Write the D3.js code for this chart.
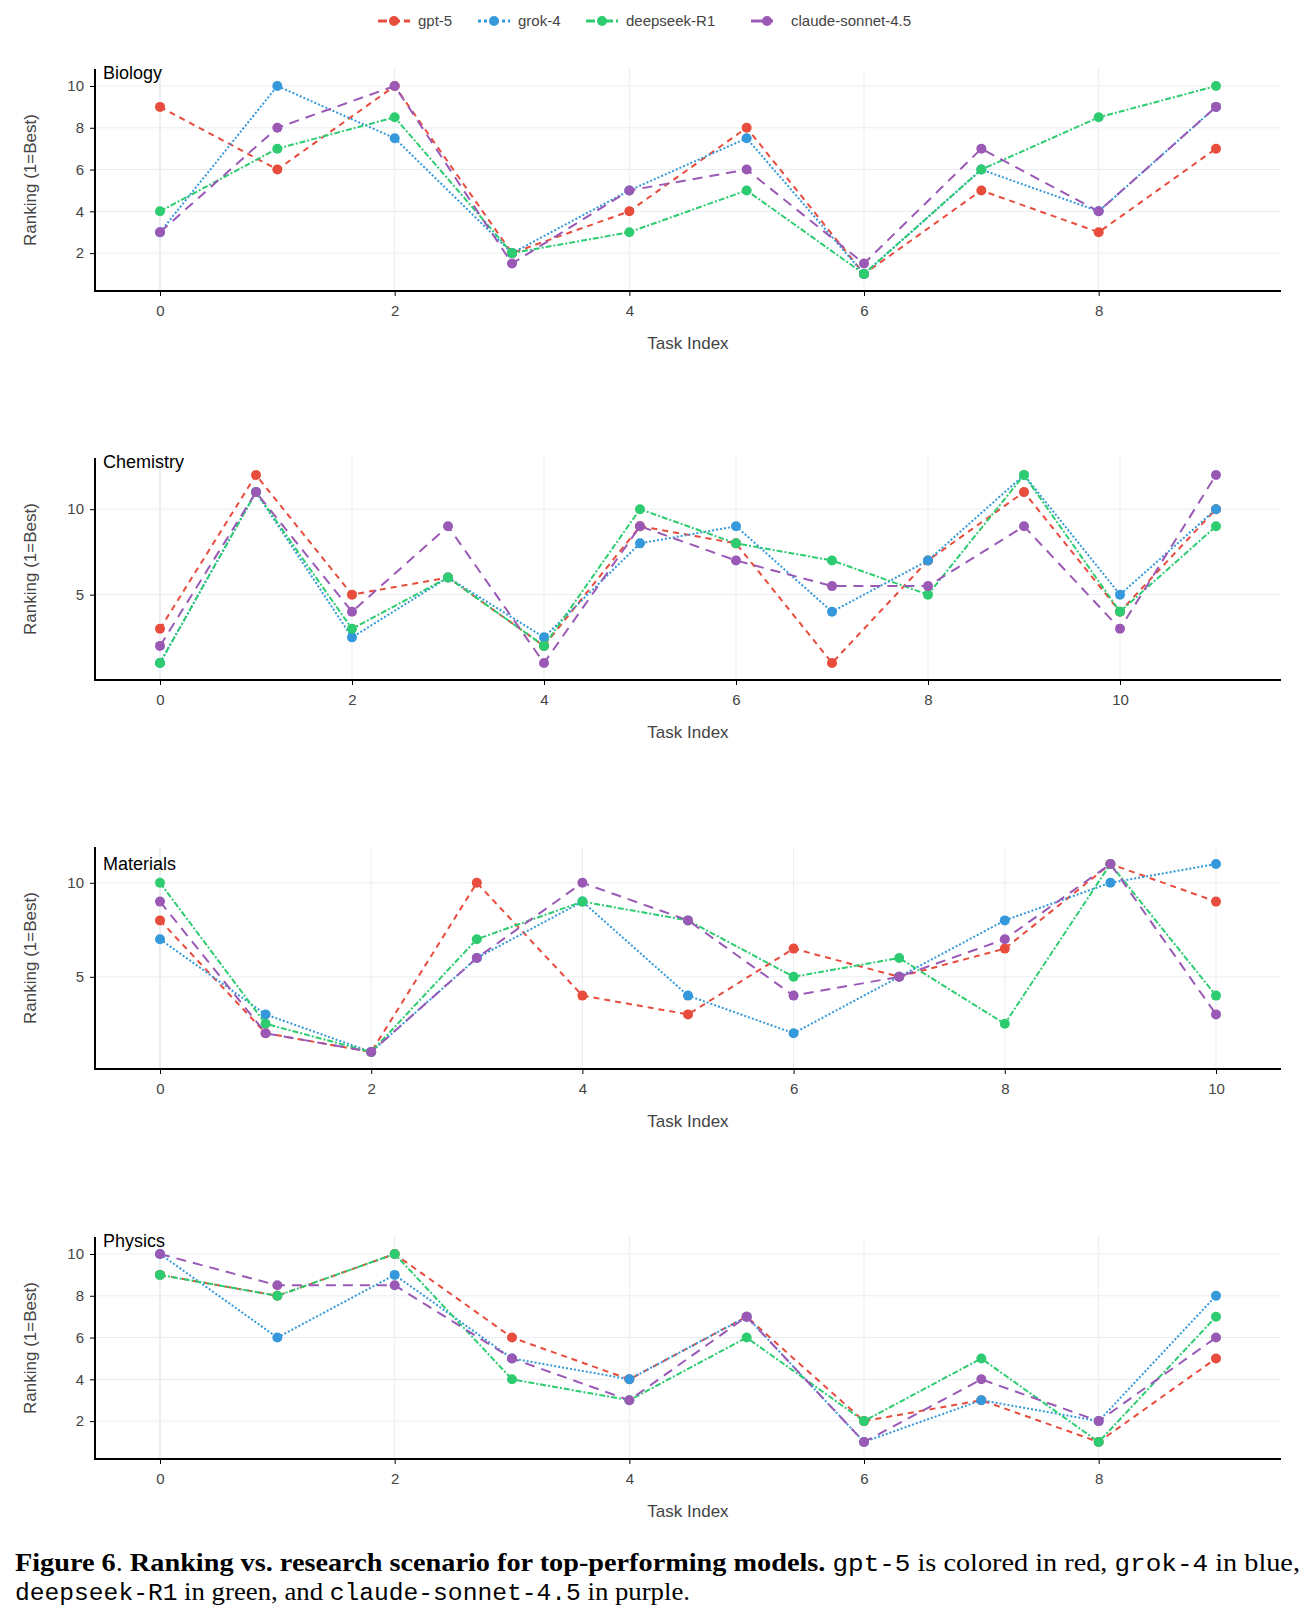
<!DOCTYPE html>
<html>
<head>
<meta charset="utf-8">
<script src="https://cdn.jsdelivr.net/npm/d3@7"></script>
<style>
  body { margin: 0; background: #fff; }
  svg { display: block; }
</style>
</head>
<body>
<script>
// models, in plotly trace order
const models = ['gpt-5', 'grok-4', 'deepseek-R1', 'claude-sonnet-4.5']
const colors = ['#e74c3c', '#3498db', '#2ecc71', '#9b59b6']
const dashes = ['6,5', '2,2', '6,2,2,2', '10,7']

// rankings per task, one row per model (same order as models)
const biology = [
  [9, 6, 10, 2, 4, 8, 1, 5, 3, 7],
  [3, 10, 7.5, 2, 5, 7.5, 1, 6, 4, 9],
  [4, 7, 8.5, 2, 3, 5, 1, 6, 8.5, 10],
  [3, 8, 10, 1.5, 5, 6, 1.5, 7, 4, 9]
]
const chemistry = [
  [3, 12, 5, 6, 2, 9, 8, 1, 7, 11, 4, 10],
  [1, 11, 2.5, 6, 2.5, 8, 9, 4, 7, 12, 5, 10],
  [1, 11, 3, 6, 2, 10, 8, 7, 5, 12, 4, 9],
  [2, 11, 4, 9, 1, 9, 7, 5.5, 5.5, 9, 3, 12]
]
const materials = [
  [8, 2, 1, 10, 4, 3, 6.5, 5, 6.5, 11, 9],
  [7, 3, 1, 6, 9, 4, 2, 5, 8, 10, 11],
  [10, 2.5, 1, 7, 9, 8, 5, 6, 2.5, 11, 4],
  [9, 2, 1, 6, 10, 8, 4, 5, 7, 11, 3]
]
const physics = [
  [9, 8, 10, 6, 4, 7, 2, 3, 1, 5],
  [10, 6, 9, 5, 4, 7, 1, 3, 2, 8],
  [9, 8, 10, 4, 3, 6, 2, 5, 1, 7],
  [10, 8.5, 8.5, 5, 3, 7, 1, 4, 2, 6]
]

const panelNames = ['Biology', 'Chemistry', 'Materials', 'Physics']
const panelData = [biology, chemistry, materials, physics]
const yTickSets = [[2, 4, 6, 8, 10], [5, 10], [5, 10], [2, 4, 6, 8, 10]]

// layout
const width = 1312, height = 1619
const left = 95, right = 1281
const tops = [69, 458, 847, 1237]
const titleDy = [4, 4, 17, 4]
const ph = 222
const pw = right - left
const textColor = '#444'
const gridColor = '#eaedf1'
const font = 'Liberation Sans, Arial, sans-serif'

const svg = d3.select('body').append('svg')
  .attr('width', width)
  .attr('height', height)
  .style('font-family', font)

svg.append('rect').attr('width', width).attr('height', height).attr('fill', '#fff')

panelData.forEach((series, i) => {
  const g = svg.append('g').attr('transform', `translate(${left},${tops[i]})`)
  const n = series[0].length
  const all = series.flat()

  const x = d3.scaleLinear().domain([0, n - 1]).range([65, pw - 65])
  const y = d3.scaleLinear().domain([d3.min(all), d3.max(all)]).range([ph - 17, 17])
  const xTicks = d3.range(0, n, 2)

  // grid
  g.append('g').selectAll('line').data(xTicks).join('line')
    .attr('x1', d => x(d)).attr('x2', d => x(d))
    .attr('y1', 0).attr('y2', ph)
    .attr('stroke', gridColor)
    .attr('stroke-width', d => d === 0 ? 2 : 1)
  g.append('g').selectAll('line').data(yTickSets[i]).join('line')
    .attr('x1', 0).attr('x2', pw)
    .attr('y1', d => y(d)).attr('y2', d => y(d))
    .attr('stroke', gridColor)

  // axes (ticks and labels from d3, full-length axis lines drawn separately)
  const xa = g.append('g').attr('transform', `translate(0,${ph})`)
    .call(d3.axisBottom(x).tickValues(xTicks).tickSize(5).tickSizeOuter(0).tickPadding(9).tickFormat(d3.format('d')))
  const ya = g.append('g')
    .call(d3.axisLeft(y).tickValues(yTickSets[i]).tickSize(5).tickSizeOuter(0).tickPadding(6).tickFormat(d3.format('d')))
  ;[xa, ya].forEach(a => {
    a.select('.domain').remove()
    a.selectAll('.tick line').attr('stroke', '#000')
    a.selectAll('.tick text').attr('fill', textColor).style('font-size', '15px').style('font-family', font)
  })
  g.append('line').attr('x1', 0).attr('x2', 0).attr('y1', 0).attr('y2', ph + 1)
    .attr('stroke', '#000').attr('stroke-width', 2)
  g.append('line').attr('x1', -1).attr('x2', pw).attr('y1', ph).attr('y2', ph)
    .attr('stroke', '#000').attr('stroke-width', 2)

  // series
  const line = d3.line().x((d, j) => x(j)).y(d => y(d))
  series.forEach((vals, k) => {
    g.append('path')
      .attr('d', line(vals))
      .attr('fill', 'none')
      .attr('stroke', colors[k])
      .attr('stroke-width', 2)
      .attr('stroke-dasharray', dashes[k])
    g.append('g').selectAll('circle').data(vals).join('circle')
      .attr('cx', (d, j) => x(j))
      .attr('cy', d => y(d))
      .attr('r', 5)
      .attr('fill', colors[k])
  })

  // panel title
  g.append('text')
    .attr('x', 8).attr('y', titleDy[i] + 6)
    .attr('fill', '#000')
    .style('font-size', '18px')
    .text(panelNames[i])

  // axis titles
  g.append('text')
    .attr('x', pw / 2).attr('y', ph + 58)
    .attr('text-anchor', 'middle')
    .attr('fill', textColor)
    .style('font-size', '17px')
    .text('Task Index')
  g.append('text')
    .attr('transform', `translate(${30 - left},${ph / 2}) rotate(-90)`)
    .attr('dy', '0.35em')
    .attr('text-anchor', 'middle')
    .attr('fill', textColor)
    .style('font-size', '17px')
    .text('Ranking (1=Best)')
})

// legend
const legend = svg.append('g').attr('transform', 'translate(0,21)')
const legendStarts = [378, 478, 586, 751]
const legendDash = ['9,4', '3,3', '9,3,3,3', '22,10']
models.forEach((m, k) => {
  const lg = legend.append('g').attr('transform', `translate(${legendStarts[k]},0)`)
  lg.append('line')
    .attr('x1', 0).attr('x2', 32)
    .attr('stroke', colors[k]).attr('stroke-width', 3)
    .attr('stroke-dasharray', legendDash[k])
  lg.append('circle').attr('cx', 16).attr('r', 5).attr('fill', colors[k])
  lg.append('text')
    .attr('x', 40).attr('dy', '0.35em')
    .attr('fill', textColor)
    .style('font-size', '15px')
    .text(m)
})

// caption
const serif = 'Liberation Serif, Times New Roman, Times, serif'
const mono = 'Liberation Mono, Courier New, monospace'
const cap1 = svg.append('text')
  .attr('x', 15).attr('y', 1571)
  .attr('textLength', 1285).attr('lengthAdjust', 'spacingAndGlyphs')
  .style('font-size', '25px').style('font-family', serif).attr('fill', '#000')
cap1.append('tspan').style('font-weight', 'bold').text('Figure 6')
cap1.append('tspan').text('.  ')
cap1.append('tspan').style('font-weight', 'bold').text('Ranking vs. research scenario for top-performing models.')
cap1.append('tspan').text(' ')
cap1.append('tspan').style('font-family', mono).style('font-size', '23px').text('gpt-5')
cap1.append('tspan').text(' is colored in red, ')
cap1.append('tspan').style('font-family', mono).style('font-size', '23px').text('grok-4')
cap1.append('tspan').text(' in blue,')

const cap2 = svg.append('text')
  .attr('x', 15).attr('y', 1600)
  .attr('textLength', 675).attr('lengthAdjust', 'spacingAndGlyphs')
  .style('font-size', '25px').style('font-family', serif).attr('fill', '#000')
cap2.append('tspan').style('font-family', mono).style('font-size', '23px').text('deepseek-R1')
cap2.append('tspan').text(' in green, and ')
cap2.append('tspan').style('font-family', mono).style('font-size', '23px').text('claude-sonnet-4.5')
cap2.append('tspan').text(' in purple.')
</script>
</body>
</html>
